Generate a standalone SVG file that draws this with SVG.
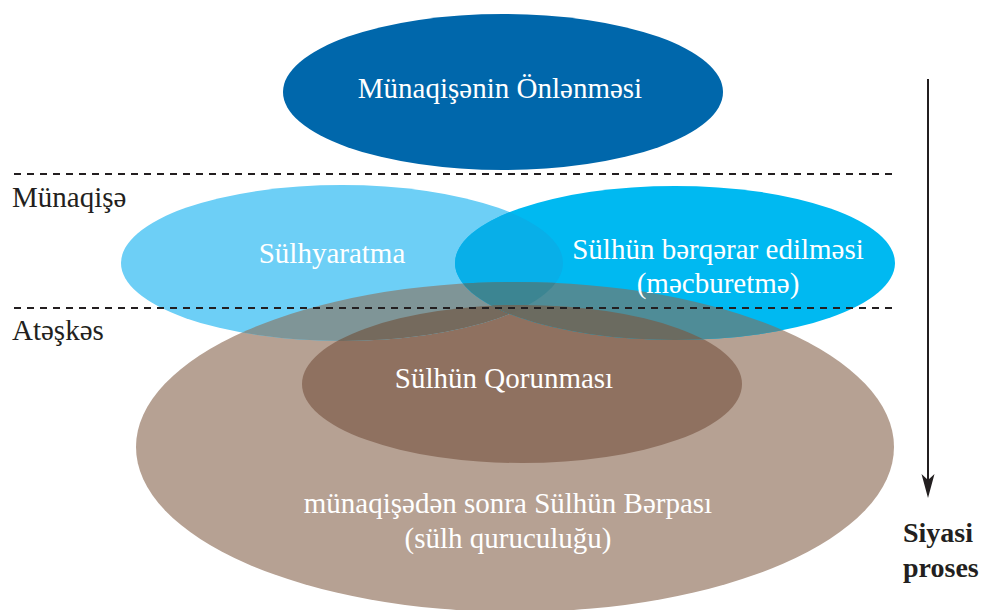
<svg xmlns="http://www.w3.org/2000/svg" width="981" height="610" viewBox="0 0 981 610">
<style>
.t{font-family:'Liberation Serif','DejaVu Serif',serif;font-size:29px;fill:#ffffff;text-anchor:middle}
.lbl{font-family:'Liberation Serif','DejaVu Serif',serif;font-size:29px;fill:#231F20}
.bold{font-family:'Liberation Serif','DejaVu Serif',serif;font-size:28px;font-weight:bold;fill:#231F20}
.dash{stroke:#231F20;stroke-width:2;stroke-dasharray:7 6;fill:none}
.conn{stroke:#231F20;stroke-width:2;fill:none}
</style>
<defs>
<ellipse id="eA" cx="342" cy="263" rx="221" ry="78"/>
<ellipse id="eB" cx="675" cy="263" rx="220" ry="77"/>
<ellipse id="eD" cx="515" cy="447" rx="379" ry="165"/>
<ellipse id="eE" cx="522" cy="384" rx="220" ry="79"/>
<clipPath id="cA"><use href="#eA"/></clipPath>
<clipPath id="cD"><use href="#eD"/></clipPath>
<clipPath id="cE"><use href="#eE"/></clipPath>
<marker id="arr" viewBox="0 -7 24 14" markerWidth="24" markerHeight="14" markerUnits="userSpaceOnUse" refX="16" refY="0" orient="auto">
<path d="M0,-6.5 L24,0 L0,6.5 L6,0 Z" fill="#231F20"/>
</marker>
</defs>
<rect x="0" y="0" width="981" height="610" fill="#ffffff"/>

<g id="node-onlenme">
<ellipse cx="503" cy="92" rx="220" ry="78" fill="#0067AB"/>
<text class="t" x="500" y="98" font-family="Liberation Serif">Münaqişənin Önlənməsi</text>
</g>

<g id="node-berpa">
<use href="#eD" fill="#B6A193"/>
<text class="t" x="508" y="513">münaqişədən sonra Sülhün Bərpası</text>
<text class="t" x="508" y="548">(sülh quruculuğu)</text>
</g>

<g id="node-qorunma">
<use href="#eE" fill="#8F7160"/>
<text class="t" x="504" y="388">Sülhün Qorunması</text>
</g>

<g id="node-sulhyaratma">
<use href="#eA" fill="#6DCFF6"/>
<use href="#eA" clip-path="url(#cD)" fill="#7F9597"/>
<use href="#eA" clip-path="url(#cE)" fill="#756A5D"/>
<text class="t" x="332" y="263">Sülhyaratma</text>
</g>

<g id="node-berqerar">
<use href="#eB" fill="#00B9F1"/>
<use href="#eB" clip-path="url(#cA)" fill="#08AFE8"/>
<use href="#eB" clip-path="url(#cD)" fill="#4F8C97"/>
<g clip-path="url(#cD)"><use href="#eB" clip-path="url(#cA)" fill="#3C8592"/></g>
<use href="#eB" clip-path="url(#cE)" fill="#6B6B60"/>
<g clip-path="url(#cE)"><use href="#eB" clip-path="url(#cA)" fill="#6A6A5F"/></g>
<text class="t" x="718" y="259">Sülhün bərqərar edilməsi</text>
<text class="t" x="718" y="293">(məcburetmə)</text>
</g>

<g id="separators">
<line class="dash" x1="14" y1="174" x2="895" y2="174"/>
<line class="dash" x1="14" y1="308" x2="895" y2="308"/>
<text class="lbl" x="12" y="207">Münaqişə</text>
<text class="lbl" x="12" y="340">Atəşkəs</text>
</g>

<g id="connectors">
<line class="conn" x1="928" y1="79" x2="928" y2="490" marker-end="url(#arr)"/>
</g>

<g id="node-siyasi">
<text class="bold" x="903" y="542">Siyasi</text>
<text class="bold" x="903" y="577">proses</text>
</g>
</svg>
